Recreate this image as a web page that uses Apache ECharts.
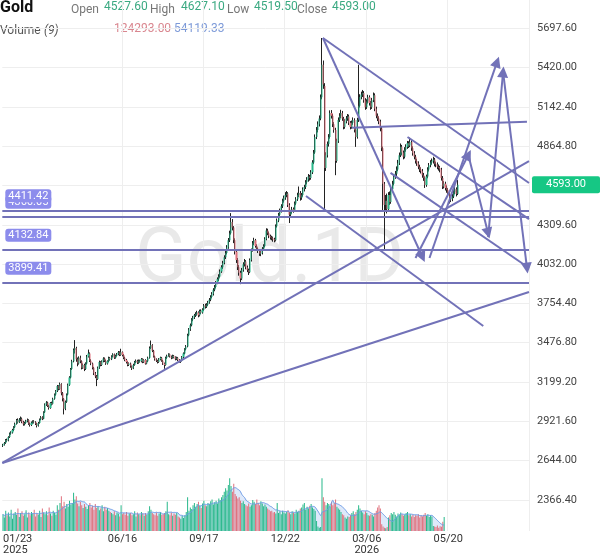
<!DOCTYPE html>
<html><head><meta charset="utf-8">
<script src="https://cdn.jsdelivr.net/npm/echarts@6/dist/echarts.min.js"></script>
<style>html,body{margin:0;padding:0;background:#fff}#c{width:600px;height:558px}</style>
</head><body><div id="c"></div>
<script>
// [open, close, low, high]
const candles = [
[2748,2755,2740,2762],[2755,2768,2750,2775],[2768,2790,2762,2796],[2790,2785,2776,2799],[2785,2810,2780,2816],
[2810,2835,2804,2842],[2835,2842,2826,2851],[2842,2860,2835,2868],[2860,2880,2852,2887],[2880,2905,2874,2912],
[2905,2930,2898,2938],[2930,2915,2906,2942],[2915,2935,2910,2944],[2935,2940,2922,2955],[2940,2918,2908,2948],
[2918,2900,2890,2925],[2900,2910,2892,2918],[2910,2925,2903,2932],[2925,2930,2914,2941],[2930,2905,2896,2936],
[2905,2895,2884,2913],[2895,2912,2888,2920],[2912,2920,2904,2928],[2920,2915,2906,2929],[2915,2905,2895,2922],
[2905,2890,2878,2911],[2890,2910,2884,2917],[2910,2935,2905,2941],[2935,2950,2928,2958],[2950,2940,2930,2957],
[2940,2985,2936,2992],[2985,3040,2980,3048],[3040,3055,3030,3064],[3055,3030,3022,3060],[3030,3015,3004,3038],
[3015,3050,3010,3057],[3050,3045,3033,3060],[3045,3080,3040,3088],[3080,3110,3074,3118],[3110,3135,3102,3142],
[3135,3170,3128,3178],[3170,3150,3140,3176],[3150,3185,3144,3195],[3185,3120,3105,3190],[3120,3080,3062,3128],
[3080,3010,2970,3086],[3010,3060,3000,3068],[3060,3110,3052,3118],[3110,3180,3104,3188],[3180,3230,3172,3240],
[3230,3290,3224,3298],[3290,3345,3284,3356],[3345,3425,3338,3436],[3425,3440,3400,3495],[3440,3360,3342,3448],
[3360,3330,3310,3372],[3330,3370,3322,3380],[3370,3345,3332,3385],[3345,3300,3288,3352],[3300,3320,3292,3330],
[3320,3290,3276,3328],[3290,3330,3284,3338],[3330,3380,3322,3390],[3380,3400,3372,3428],[3400,3350,3340,3408],
[3350,3330,3318,3360],[3330,3300,3288,3336],[3300,3260,3248,3306],[3260,3240,3226,3270],[3240,3220,3170,3248],
[3220,3300,3214,3308],[3300,3340,3292,3350],[3340,3320,3310,3346],[3320,3345,3312,3352],[3345,3365,3338,3374],
[3365,3350,3340,3372],[3350,3330,3320,3358],[3330,3345,3322,3352],[3345,3370,3338,3378],[3370,3360,3350,3376],
[3360,3380,3354,3388],[3380,3395,3372,3402],[3395,3370,3362,3400],[3370,3385,3364,3392],[3385,3395,3378,3404],
[3395,3410,3388,3418],[3410,3390,3382,3416],[3390,3410,3384,3434],[3410,3390,3380,3415],[3390,3370,3360,3396],
[3370,3355,3346,3378],[3355,3340,3330,3362],[3340,3320,3310,3346],[3320,3330,3312,3338],[3330,3310,3300,3336],
[3310,3295,3284,3316],[3295,3320,3290,3328],[3320,3340,3314,3348],[3340,3350,3332,3358],[3350,3335,3326,3356],
[3335,3350,3328,3358],[3350,3345,3336,3357],[3345,3360,3338,3368],[3360,3340,3332,3366],[3340,3355,3334,3362],
[3355,3330,3322,3360],[3330,3345,3324,3352],[3345,3370,3340,3378],[3370,3440,3364,3450],[3440,3460,3432,3492],
[3460,3420,3410,3466],[3420,3380,3372,3426],[3380,3360,3350,3386],[3360,3350,3340,3366],[3350,3340,3330,3356],
[3340,3360,3334,3368],[3360,3370,3352,3378],[3370,3350,3342,3376],[3350,3330,3320,3356],[3330,3320,3292,3336],
[3320,3370,3314,3378],[3370,3385,3362,3392],[3385,3395,3378,3402],[3395,3380,3372,3400],[3380,3370,3360,3386],
[3370,3385,3364,3392],[3385,3375,3366,3390],[3375,3360,3352,3380],[3360,3370,3354,3378],[3370,3355,3346,3376],
[3355,3345,3336,3360],[3345,3350,3334,3356],[3350,3375,3344,3382],[3375,3400,3368,3408],[3400,3430,3394,3438],
[3430,3450,3422,3460],[3450,3530,3444,3540],[3530,3570,3522,3580],[3570,3600,3560,3612],[3600,3640,3592,3650],
[3640,3655,3628,3666],[3655,3670,3644,3680],[3670,3680,3658,3692],[3680,3690,3668,3702],[3690,3670,3656,3698],
[3670,3700,3662,3710],[3700,3690,3678,3712],[3690,3710,3682,3720],[3710,3740,3702,3750],[3740,3730,3718,3752],
[3730,3745,3722,3756],[3745,3760,3736,3772],[3760,3780,3752,3792],[3780,3800,3770,3812],[3800,3820,3790,3834],
[3820,3850,3810,3862],[3850,3870,3840,3884],[3870,3900,3860,3912],[3900,3925,3890,3938],[3925,3945,3912,3960],
[3945,3980,3936,3994],[3980,4010,3970,4024],[4010,4040,3998,4055],[4040,4080,4030,4094],[4080,4110,4068,4126],
[4110,4150,4100,4166],[4150,4200,4140,4216],[4200,4250,4188,4268],[4250,4330,4240,4392],[4330,4290,4270,4350],
[4290,4200,4180,4300],[4200,4120,4100,4214],[4120,4060,4040,4135],[4060,4010,3990,4075],[4010,3970,3950,4025],
[3970,3930,3890,3985],[3930,3990,3920,4005],[3990,4030,3978,4045],[4030,4050,4015,4068],[4050,4010,3995,4060],
[4010,3990,3975,4022],[3990,3975,3955,4000],[3975,4060,3968,4072],[4060,4130,4050,4142],[4130,4180,4120,4195],
[4180,4200,4165,4218],[4200,4160,4148,4210],[4160,4140,4125,4172],[4140,4125,4110,4150],[4125,4105,4090,4134],
[4105,4110,4088,4124],[4110,4140,4100,4152],[4140,4160,4128,4172],[4160,4210,4150,4222],[4210,4270,4200,4285],
[4270,4250,4236,4282],[4250,4230,4215,4262],[4230,4220,4205,4240],[4220,4215,4200,4232],[4215,4205,4190,4226],
[4205,4200,4186,4218],[4200,4300,4192,4312],[4300,4340,4290,4354],[4340,4380,4328,4394],[4380,4410,4368,4424],
[4410,4440,4396,4455],[4440,4480,4428,4494],[4480,4500,4466,4516],[4500,4520,4486,4540],[4520,4530,4504,4548],
[4530,4450,4435,4540],[4450,4380,4322,4462],[4380,4400,4366,4415],[4400,4420,4388,4436],[4420,4410,4395,4432],
[4410,4460,4400,4474],[4460,4490,4448,4505],[4490,4520,4478,4536],[4520,4535,4505,4580],[4535,4500,4480,4548],
[4500,4520,4486,4534],[4520,4560,4508,4574],[4560,4576,4545,4592],[4576,4610,4562,4625],[4610,4630,4595,4646],
[4630,4650,4614,4668],[4650,4640,4622,4662],[4640,4680,4628,4696],[4680,4750,4668,4766],[4750,4820,4738,4838],
[4820,4930,4810,4948],[4930,4980,4915,5000],[4980,5020,4962,5040],[5020,5060,5004,5082],[5060,5210,5048,5230],
[5210,5440,5196,5629],[5440,5300,5270,5470],[5290,4710,4414,5310],[4710,4800,4690,4822],[4800,4880,4785,4898],
[4880,4930,4862,4950],[4930,5100,4918,5118],[5100,5080,5060,5120],[5080,5020,5000,5094],[5020,4980,4960,5035],
[4980,4760,4660,4995],[4760,4900,4748,4918],[4900,5050,4888,5068],[5050,5080,5036,5098],[5080,5100,5062,5122],
[5100,5060,5044,5114],[5060,5000,4984,5072],[5000,5040,4988,5056],[5040,5060,5026,5078],[5060,5075,5044,5092],
[5075,5030,5014,5088],[5030,5000,4984,5042],[5000,5030,4988,5046],[5030,5050,5016,5068],[5050,4980,4962,5062],
[4980,4930,4860,4994],[4930,5050,4918,5066],[5050,5150,5036,5440],[5150,5213,5138,5232],[5213,5230,5196,5250],
[5230,5240,5212,5262],[5240,5190,5172,5254],[5190,5140,5122,5204],[5140,5180,5128,5196],[5180,5210,5166,5228],
[5210,5170,5152,5224],[5170,5140,5122,5184],[5140,5190,5128,5206],[5190,5225,5176,5244],[5225,5130,5112,5238],
[5130,5080,5062,5144],[5080,5060,5042,5096],[5060,5040,5020,5076],[5040,4990,4970,5052],[4990,4850,4830,5000],
[4850,4600,4400,4862],[4600,4450,4135,4612],[4450,4480,4410,4520],[4480,4420,4390,4530],[4420,4520,4405,4540],
[4520,4470,4450,4545],[4470,4560,4458,4575],[4560,4600,4545,4620],[4600,4650,4588,4668],[4650,4670,4634,4690],
[4670,4700,4654,4722],[4700,4745,4688,4768],[4745,4800,4732,4820],[4800,4860,4788,4884],[4860,4820,4800,4874],
[4820,4790,4772,4834],[4790,4840,4778,4858],[4840,4860,4826,4878],[4860,4885,4846,4902],[4885,4870,4852,4900],
[4870,4895,4858,4925],[4895,4850,4832,4908],[4850,4815,4798,4864],[4815,4790,4772,4830],[4790,4760,4742,4804],
[4760,4745,4726,4776],[4745,4720,4702,4758],[4720,4700,4682,4734],[4700,4690,4672,4716],[4690,4660,4642,4704],
[4660,4640,4620,4676],[4640,4590,4570,4652],[4590,4650,4578,4664],[4650,4700,4638,4716],[4700,4730,4686,4746],
[4730,4750,4716,4766],[4750,4760,4734,4778],[4760,4770,4742,4790],[4770,4740,4722,4782],[4740,4735,4716,4756],
[4735,4720,4702,4750],[4720,4710,4692,4736],[4710,4700,4680,4726],[4700,4640,4622,4712],[4640,4580,4562,4654],
[4580,4600,4566,4618],[4600,4570,4552,4614],[4570,4555,4536,4588],[4555,4530,4512,4570],[4530,4505,4460,4546],
[4505,4490,4470,4520],[4490,4510,4476,4528],[4510,4540,4498,4556],[4540,4560,4524,4578],[4560,4527.6,4510,4574],
[4527.6,4593,4519.5,4627.1]
];
// volume, thousands of contracts
const volumes = [
150,120,180,140,165,130,190,110,155,170, 145,200,125,160,175,135,150,185,120,165,
140,170,155,190,130,160,145,180,125,200, 165,150,175,140,210,155,135,180,160,145,
230,190,250,310,220,260,200,240,215,270, 235,250,340,280,310,245,220,260,230,205,
240,215,195,230,250,210,225,190,240,205, 220,185,200,230,175,215,190,205,180,170,
160,150,175,140,165,155,130,230,150,160, 145,170,135,155,160,140,150,175,130,165,
150,140,170,155,135,160,145,175,220,190, 160,150,140,165,135,155,170,145,150,160,
175,260,150,140,165,135,155,145,160,130, 120,110,135,115,140,170,300,180,210,195,
230,250,215,240,260,225,205,245,270,230, 220,250,240,265,280,235,255,270,245,290,
275,300,320,350,380,360,410,470,400,350, 420,330,310,290,300,270,250,265,240,230,
220,245,215,230,275,260,240,280,250,230, 265,245,220,235,215,200,190,175,180,165,
170,155,250,160,175,150,180,165,155,170, 185,160,150,175,165,155,190,170,180,200,
210,235,250,190,215,200,225,240,210,195, 180,90,40,30,35,470,300,260,230,250,
240,220,260,230,250,280,215,200,190,170, 150,140,120,110,130,125,140,160,175,150,
170,190,230,200,180,165,150,175,160,140, 135,150,145,130,160,180,210,230,200,60,
40,30,25,35,120,140,160,150,170,145, 130,155,140,165,150,135,145,160,170,140,
150,130,145,125,140,135,150,120,140,130, 145,160,135,150,125,140,130,45,40,35,
50,30,42,38,82.78,124.293
];
const priceTicks = [2366.4,2644.0,2921.6,3199.2,3476.8,3754.4,4032.0,4309.6,4587.2,4864.8,5142.4,5420.0,5697.6];
const xTickLabels = {0:'01/23\n2025', 88:'06/16', 148:'09/17', 208:'12/22', 268:'03/06\n2026', 328:'05/20'};
const levelLines = [4366.05, 4411.42, 4132.84, 3899.41];
// drawn trend lines: [barIndex1, price1, barIndex2, price2, arrowAtEnd]
const trendLines = [
  [-0.5, 2627, 387.5, 4760, 0],
  [-0.5, 2627, 387.5, 3835, 0],
  [256.9, 4995, 386.0, 5038, 0],
  [235.7, 5629, 387.5, 4605, 0],
  [235.7, 5629, 309.0, 4082, 1],
  [223.2, 4513, 353.8, 3595, 0],
  [298.0, 4930, 387.5, 4350, 0],
  [285.5, 4676, 387.5, 4004, 0],
  [314.2, 4075, 364.0, 5460, 1],
  [357.4, 4223, 368.4, 5389, 1],
  [368.4, 5389, 386.0, 4004, 1],
  [303.9, 4075, 342.8, 4803, 1],
  [342.8, 4803, 357.4, 4250, 1]
];
const lastPrice = 4593.00;
const SLOTS = 388;

const UP = '#27b88a', DOWN = '#e0707c';
const cats = candles.map((d, i) => String(i));
for (let i = candles.length; i < SLOTS; i++) cats.push(String(i));
const volData = volumes.map((v, i) => ({value: v, itemStyle: {color: candles[i][1] >= candles[i][0] ? UP : DOWN}}));
const ma9 = volumes.map((v, i) => {
  const s = volumes.slice(Math.max(0, i - 8), i + 1);
  return s.reduce((a, b) => a + b, 0) / s.length;
});
const LINE = '#7272b8';

const chart = echarts.init(document.getElementById('c'), null, {renderer: 'canvas'});
const tick = (i) => xTickLabels[i] !== undefined;
chart.setOption({
  animation: false,
  backgroundColor: '#fff',
  grid: {left: 0, right: 71, top: 0, bottom: 27, containLabel: false},
  xAxis: [
    {type: 'category', data: cats, boundaryGap: true,
     axisLine: {show: false}, axisTick: {show: false},
     axisLabel: {interval: (i) => tick(i), formatter: (v, i) => xTickLabels[i] || '', fontSize: 11, color: '#333',
       margin: 3, lineHeight: 11, fontFamily: 'Roboto', alignMinLabel: 'left'},
     splitLine: {show: true, interval: (i) => tick(i) && i > 0, lineStyle: {color: '#eeeeee', width: 1}}},
    {type: 'value', min: -0.5, max: SLOTS - 0.5, show: false, gridIndex: 0}
  ],
  yAxis: [
    {type: 'value', position: 'right', min: 2146.5, max: 5897.5, scale: true,
     axisLine: {show: false}, axisTick: {show: false, customValues: priceTicks},
     axisLabel: {customValues: priceTicks, formatter: (v) => v.toFixed(2), fontSize: 11, color: '#444', margin: 8, fontFamily: 'Roboto'},
     splitLine: {show: true, lineStyle: {color: '#eeeeee', width: 1}}},
    {type: 'value', min: 0, max: 4726, show: false, gridIndex: 0}
  ],
  graphic: [
    {type: 'text', z: -10, style: {x: 135, y: 262, text: 'Gold.1D', font: '76px Roboto', fill: '#e9e9e9', verticalAlign: 'middle'}},
    {type: 'text', style: {x: 0, y: 8, text: 'Gold', font: 'bold 16px Roboto', fill: '#111', verticalAlign: 'middle'}},
    {type: 'text', style: {x: 71, y: 10, text: 'Open', font: '12px Roboto', fill: '#777', verticalAlign: 'middle'}},
    {type: 'text', style: {x: 104, y: 7, text: '4527.60', font: '12px Roboto', fill: '#3aa981', verticalAlign: 'middle'}},
    {type: 'text', style: {x: 150, y: 10, text: 'High', font: '12px Roboto', fill: '#777', verticalAlign: 'middle'}},
    {type: 'text', style: {x: 181, y: 7, text: '4627.10', font: '12px Roboto', fill: '#3aa981', verticalAlign: 'middle'}},
    {type: 'text', style: {x: 227, y: 10, text: 'Low', font: '12px Roboto', fill: '#777', verticalAlign: 'middle'}},
    {type: 'text', style: {x: 254, y: 7, text: '4519.50', font: '12px Roboto', fill: '#3aa981', verticalAlign: 'middle'}},
    {type: 'text', style: {x: 297, y: 10, text: 'Close', font: '12px Roboto', fill: '#777', verticalAlign: 'middle'}},
    {type: 'text', style: {x: 332, y: 7, text: '4593.00', font: '12px Roboto', fill: '#3aa981', verticalAlign: 'middle'}},
    {type: 'text', style: {x: 0, y: 31, text: 'Volume', font: '12px Roboto', fill: '#555', verticalAlign: 'middle'}},
    {type: 'text', style: {x: 44, y: 31, text: '(9)', font: 'italic 12px Roboto', fill: '#555', verticalAlign: 'middle'}},
    {type: 'text', style: {x: 114, y: 29, text: '124293.00', font: '12px Roboto', fill: '#d9868f', verticalAlign: 'middle'}},
    {type: 'text', style: {x: 174, y: 29, text: '54119.33', font: '12px Roboto', fill: '#7d9ad8', verticalAlign: 'middle'}}
  ],
  series: [
    {type: 'bar', name: 'vol', xAxisIndex: 0, yAxisIndex: 1, data: volData, barWidth: 1, z: 1},
    {type: 'line', name: 'volma', xAxisIndex: 0, yAxisIndex: 1, data: ma9, smooth: 0.5, symbol: 'none', z: 1,
     lineStyle: {color: '#6c9be6', width: 1}, areaStyle: {color: 'rgba(120,165,235,0.35)'}},
    {type: 'candlestick', name: 'wick', xAxisIndex: 0, yAxisIndex: 0, data: candles, barWidth: 1, z: 3,
     itemStyle: {color: '#222', color0: '#222', borderColor: '#222', borderColor0: '#222', borderWidth: 1}},
    {type: 'candlestick', name: 'body', xAxisIndex: 0, yAxisIndex: 0, data: candles, barWidth: 1.6, z: 4,
     itemStyle: {color: UP, color0: DOWN, borderColor: UP, borderColor0: DOWN, borderWidth: 0}},
    {type: 'line', name: 'levels', xAxisIndex: 1, yAxisIndex: 0, data: [], z: 5,
     markLine: {silent: true, symbol: ['none', 'none'], animation: false,
       lineStyle: {color: LINE, width: 2, type: 'solid'},
       data: levelLines.map(p => [
         {coord: [-0.5, p], label: {show: true, position: 'insideStartTop', formatter: p.toFixed(2), distance: [3, 8],
            backgroundColor: '#8c8cec', color: '#fff', padding: [1, 3], borderRadius: 3, fontSize: 11, fontFamily: 'Roboto'}},
         {coord: [SLOTS - 0.5, p]}
       ])}},
    {type: 'line', name: 'trend', xAxisIndex: 1, yAxisIndex: 0, data: [], z: 6,
     markLine: {silent: true, animation: false, symbolSize: 11,
       lineStyle: {color: LINE, width: 2, type: 'solid'}, label: {show: false},
       data: trendLines.map(t => [
         {coord: [t[0], t[1]], symbol: 'none'},
         {coord: [t[2], t[3]], symbol: t[4] ? 'triangle' : 'none'}
       ])}},
    {type: 'line', name: 'last', xAxisIndex: 0, yAxisIndex: 0, data: [], z: 10, clip: false,
     markLine: {silent: true, animation: false, symbol: ['none', 'none'],
       lineStyle: {color: 'rgba(0,0,0,0)', width: 0},
       data: [{yAxis: lastPrice,
         label: {show: true, position: 'end', distance: 3, formatter: lastPrice.toFixed(2), backgroundColor: '#16c784',
                 color: '#fff', padding: [3, 14], borderRadius: 2, fontSize: 11, fontFamily: 'Roboto'}}]}}
  ]
});
</script>
</body></html>
